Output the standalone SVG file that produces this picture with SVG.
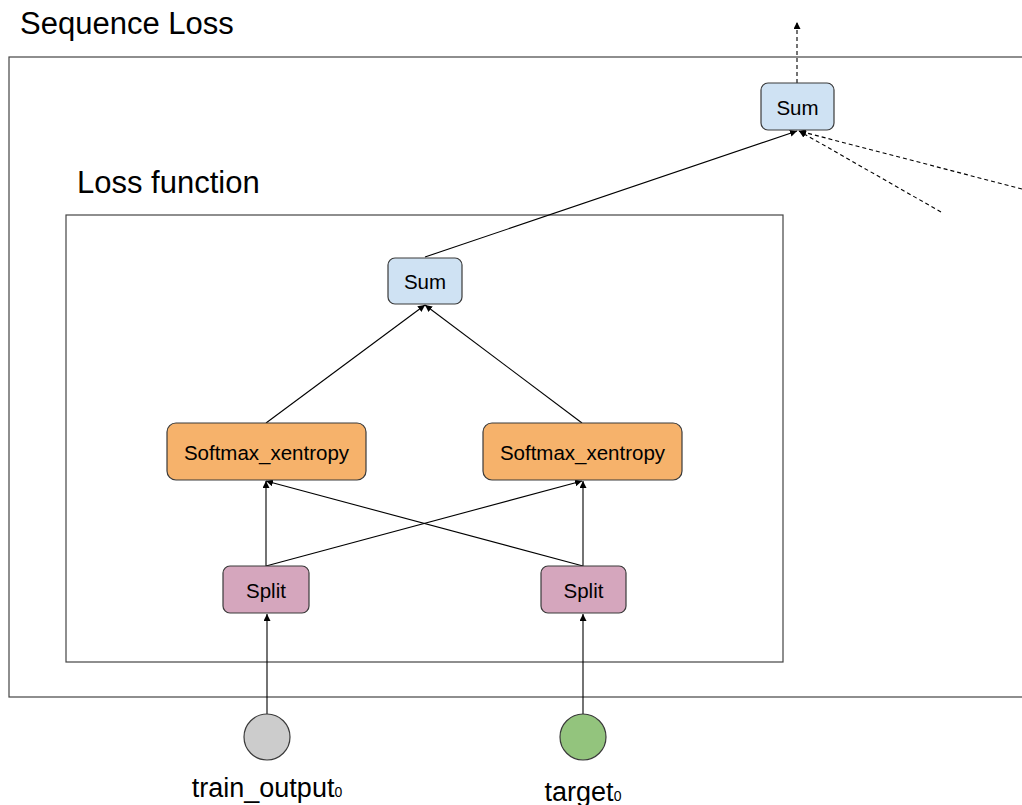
<svg xmlns="http://www.w3.org/2000/svg" width="1022" height="805" viewBox="0 0 1022 805">
  <style>
    .frame { fill: none; stroke: #444; stroke-width: 1.2; }
    .title { font-family: "Liberation Sans", Arial, sans-serif; font-size: 31px; fill: #000; }
    .lbl { font-family: "Liberation Sans", Arial, sans-serif; font-size: 20.5px; fill: #000; text-anchor: middle; dominant-baseline: central; }
    .io { font-family: "Liberation Sans", Arial, sans-serif; font-size: 27px; fill: #000; text-anchor: middle; }
    .box { stroke: #3a3a3a; stroke-width: 1.2; }
    .sum { fill: #cfe2f3; }
    .soft { fill: #f6b26b; }
    .split { fill: #d5a6bd; }
    .edge { fill: none; stroke: #000; stroke-width: 1.1; marker-end: url(#arrow); }
    .dash { stroke-dasharray: 4 3; }
  </style>
  <defs>
    <marker id="arrow" viewBox="0 0 10 10" refX="10" refY="5" markerWidth="7" markerHeight="7" orient="auto" markerUnits="userSpaceOnUse">
      <path d="M0,0 L10,5 L0,10 z" fill="#000"/>
    </marker>
  </defs>

  <rect width="1022" height="805" fill="#fff"/>

  <!-- Frames -->
  <text class="title" x="20" y="34">Sequence Loss</text>
  <rect class="frame" x="9" y="57" width="1030" height="640"/>
  <text class="title" x="77" y="193">Loss function</text>
  <rect class="frame" x="66" y="215" width="717" height="447"/>

  <!-- Connectors -->
  <g id="connectors">
    <line class="edge dash" x1="797" y1="83" x2="797" y2="22"/>
    <line class="edge" x1="425" y1="257" x2="797" y2="131"/>
    <line class="edge dash" x1="1022" y1="189" x2="799" y2="131"/>
    <line class="edge dash" x1="941" y1="212" x2="799" y2="131"/>
    <line class="edge" x1="266" y1="423" x2="425" y2="305"/>
    <line class="edge" x1="582" y1="423" x2="425" y2="305"/>
    <line class="edge" x1="266" y1="566" x2="266" y2="481"/>
    <line class="edge" x1="266" y1="566" x2="582" y2="481"/>
    <line class="edge" x1="583" y1="566" x2="266" y2="481"/>
    <line class="edge" x1="583" y1="566" x2="583" y2="481"/>
    <line class="edge" x1="267" y1="714" x2="267" y2="614"/>
    <line class="edge" x1="583" y1="714" x2="583" y2="614"/>
  </g>

  <!-- Nodes -->
  <g id="sum-outer">
    <rect class="box sum" x="761" y="83" width="73" height="47" rx="7"/>
    <text class="lbl" x="797.5" y="107">Sum</text>
  </g>
  <g id="sum-inner">
    <rect class="box sum" x="388" y="258" width="74" height="46" rx="7"/>
    <text class="lbl" x="425" y="281">Sum</text>
  </g>
  <g id="softmax-left">
    <rect class="box soft" x="167" y="423" width="199" height="57" rx="9"/>
    <text class="lbl" x="266.5" y="452">Softmax_xentropy</text>
  </g>
  <g id="softmax-right">
    <rect class="box soft" x="483" y="423" width="199" height="57" rx="9"/>
    <text class="lbl" x="582.5" y="452">Softmax_xentropy</text>
  </g>
  <g id="split-left">
    <rect class="box split" x="223" y="566" width="86" height="47" rx="7"/>
    <text class="lbl" x="266" y="590">Split</text>
  </g>
  <g id="split-right">
    <rect class="box split" x="541" y="566" width="85" height="47" rx="7"/>
    <text class="lbl" x="583.5" y="590">Split</text>
  </g>
  <g id="train-output">
    <circle class="box" cx="267" cy="737" r="23" fill="#cccccc"/>
    <text class="io" x="267" y="797">train_output<tspan font-size="14">0</tspan></text>
  </g>
  <g id="target">
    <circle class="box" cx="583" cy="737" r="23" fill="#93c47d"/>
    <text class="io" x="583" y="801">target<tspan font-size="14">0</tspan></text>
  </g>
</svg>
